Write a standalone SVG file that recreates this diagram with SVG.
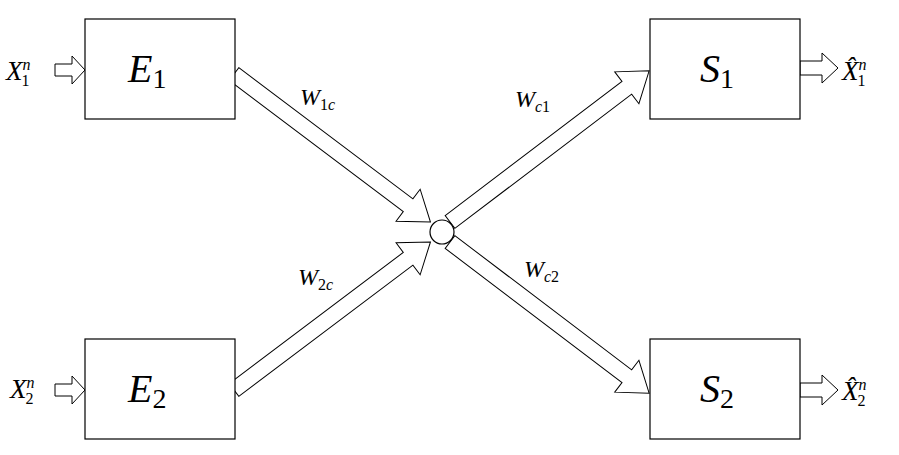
<svg xmlns="http://www.w3.org/2000/svg" width="899" height="455" viewBox="0 0 899 455">
<style>
.b{fill:#fff;stroke:#000;stroke-width:1.2}
.a{fill:#fff;stroke:#000;stroke-width:1}
.big{font-family:"Liberation Serif",serif;font-style:italic;font-size:40px}
.sub{font-family:"Liberation Serif",serif;font-size:28px}
.w{font-family:"Liberation Serif",serif;font-style:italic;font-size:24px}
.x{font-family:"Liberation Serif",serif;font-style:italic;font-size:27px}
.ws{font-size:16px}
</style>
<defs>
<polygon id="L1" points="0,-8 218,-8 218,-20 246,0 218,20 218,8 0,8"/>
<polygon id="L2" points="0,-8 222,-8 222,-20 250,0 222,20 222,8 0,8"/>
<polygon id="sm" points="0,-6 17,-6 17,-14 30,0 17,14 17,6 0,6"/>
<polygon id="sm2" points="0,-7 22,-7 22,-15 38,0 22,15 22,7 0,7"/>
</defs>
<g id="connectors">
<use href="#L1" class="a" transform="translate(234,74) rotate(37)"/>
<use href="#L1" class="a" transform="translate(234,390) rotate(-37)"/>
<use href="#L2" class="a" transform="translate(450,222) rotate(-37.2)"/>
<use href="#L2" class="a" transform="translate(450,242) rotate(37.2)"/>
<use href="#sm" class="a" transform="translate(55,70)"/>
<use href="#sm" class="a" transform="translate(55,390)"/>
<use href="#sm2" class="a" transform="translate(800,68)"/>
<use href="#sm2" class="a" transform="translate(800,390)"/>
<circle cx="442" cy="232" r="12" class="b"/>
<text x="300" y="105" class="w">W<tspan class="ws" dy="5" font-style="normal">1</tspan><tspan class="ws">c</tspan></text>
<text x="515" y="107" class="w">W<tspan class="ws" dy="5">c</tspan><tspan class="ws" font-style="normal">1</tspan></text>
<text x="298" y="285" class="w">W<tspan class="ws" dy="5" font-style="normal">2</tspan><tspan class="ws">c</tspan></text>
<text x="524" y="277" class="w">W<tspan class="ws" dy="5">c</tspan><tspan class="ws" font-style="normal">2</tspan></text>
</g>
<g id="E1"><rect x="85" y="19" width="150" height="100" class="b"/><text x="128" y="82" class="big">E<tspan class="sub" font-style="normal" dy="6">1</tspan></text></g>
<g id="E2"><rect x="85" y="339" width="150" height="100" class="b"/><text x="128" y="402" class="big">E<tspan class="sub" font-style="normal" dy="6">2</tspan></text></g>
<g id="S1"><rect x="650" y="19" width="150" height="100" class="b"/><text x="700" y="82" class="big">S<tspan class="sub" font-style="normal" dy="6">1</tspan></text></g>
<g id="S2"><rect x="650" y="339" width="150" height="100" class="b"/><text x="700" y="402" class="big">S<tspan class="sub" font-style="normal" dy="6">2</tspan></text></g>
<g id="X1"><text x="6" y="80" class="x">X<tspan class="ws" dy="-10">n</tspan><tspan class="ws" font-style="normal" dx="-9" dy="16">1</tspan></text></g>
<g id="X2"><text x="10" y="398" class="x">X<tspan class="ws" dy="-10">n</tspan><tspan class="ws" font-style="normal" dx="-9" dy="16">2</tspan></text></g>
<g id="Xh1"><text x="842" y="80" class="x">X̂<tspan class="ws" dy="-10">n</tspan><tspan class="ws" font-style="normal" dx="-9" dy="16">1</tspan></text></g>
<g id="Xh2"><text x="842" y="400" class="x">X̂<tspan class="ws" dy="-10">n</tspan><tspan class="ws" font-style="normal" dx="-9" dy="16">2</tspan></text></g>
</svg>
